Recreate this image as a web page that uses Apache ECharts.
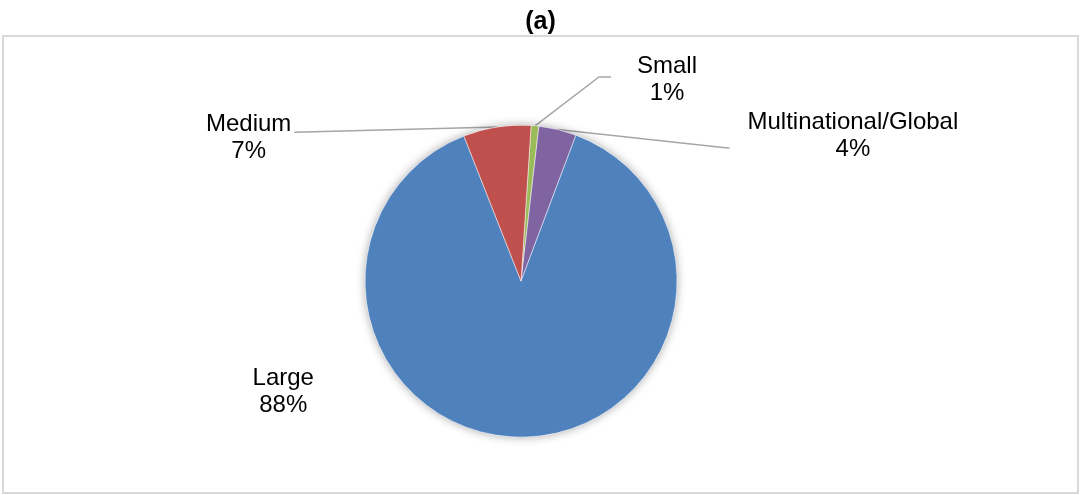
<!DOCTYPE html>
<html>
<head>
<meta charset="utf-8">
<script src="https://cdn.jsdelivr.net/npm/echarts@6/dist/echarts.min.js"></script>
<style>
  html, body { margin: 0; padding: 0; background: #fff; }
  #pie-chart { width: 1081px; height: 495px; }
</style>
</head>
<body>
<div id="pie-chart"></div>
<script>
  // data, in drawing order (clockwise from just right of 12 o'clock)
  var categories = ['Small', 'Multinational/Global', 'Large', 'Medium'];
  var shares = [0.8, 3.9, 88.3, 7.0];
  var colors = ['#9bbb59', '#8064a2', '#4f81bd', '#c0504d'];

  // where each label sits (fraction of the chart box) and how its leader line attaches
  var labelSpots = [
    { x: 0.617, y: 0.162, side: 'left', gap: 26, elbow: 12, yFrac: 0.44 },
    { x: 0.789, y: 0.275, side: 'left', gap: 18, elbow: 2, yFrac: 0.72 },
    { x: 0.262, y: 0.792, side: 'none' },
    { x: 0.230, y: 0.279, side: 'right', gap: 3, elbow: 0, yFrac: 0.39 }
  ];

  var myChart = echarts.init(document.getElementById('pie-chart'));
  var W = myChart.getWidth(), H = myChart.getHeight();

  var seriesData = [];
  for (var i = 0; i < categories.length; i++) {
    var item = {
      name: categories[i],
      value: shares[i],
      itemStyle: { color: colors[i] }
    };
    if (labelSpots[i].side === 'none') {
      item.labelLine = { show: false };
    }
    seriesData.push(item);
  }

  var option = {
    animation: false,
    title: {
      text: '(a)',
      left: 'center',
      top: 5,
      textStyle: {
        fontFamily: 'Liberation Sans, Arial, sans-serif',
        fontSize: 25,
        fontWeight: 'bold',
        color: '#000'
      }
    },
    // outer chart frame
    graphic: [{
      type: 'rect',
      shape: { x: 3, y: 36, width: W - 6, height: H - 38 },
      style: { fill: 'none', stroke: '#d9d9d9', lineWidth: 2 },
      silent: true
    }],
    series: [
      {
        // soft shadow under the pie
        type: 'pie',
        silent: true,
        center: ['48.2%', '56.8%'],
        radius: 156,
        label: { show: false },
        labelLine: { show: false },
        itemStyle: {
          color: '#ffffff',
          shadowBlur: 10,
          shadowColor: 'rgba(0,0,0,0.35)'
        },
        data: [1]
      },
      {
        type: 'pie',
        center: ['48.2%', '56.8%'],
        radius: 156,
        startAngle: 86.3,
        clockwise: true,
        percentPrecision: 0,
        avoidLabelOverlap: false,
        itemStyle: {
          borderColor: 'rgba(255,255,255,0.6)',
          borderWidth: 0.8
        },
        label: {
          show: true,
          position: 'outside',
          formatter: '{b}\n{d}%',
          fontFamily: 'Liberation Sans, Arial, sans-serif',
          fontSize: 24,
          lineHeight: 27,
          color: '#000',
          align: 'center'
        },
        labelLine: {
          show: true,
          length: 20,
          length2: 10,
          smooth: false,
          lineStyle: { color: '#a6a6a6', width: 1.5 }
        },
        labelLayout: function (params) {
          var spot = labelSpots[params.dataIndex];
          var cx = spot.x * W, cy = spot.y * H;
          var w = params.labelRect.width, h = params.labelRect.height;
          var res = { x: cx, y: cy, align: 'center', verticalAlign: 'middle' };
          var pts = params.labelLinePoints;
          if (spot.side !== 'none' && pts) {
            var ly = cy - h / 2 + h * spot.yFrac;
            var ex, bx;
            if (spot.side === 'left') {
              ex = cx - w / 2 - spot.gap;
              bx = ex - spot.elbow;
            } else {
              ex = cx + w / 2 + spot.gap;
              bx = ex + spot.elbow;
            }
            res.labelLinePoints = [pts[0].slice(), [bx, ly], [ex, ly]];
          }
          return res;
        },
        data: seriesData
      }
    ]
  };

  myChart.setOption(option, true);
</script>
</body>
</html>
